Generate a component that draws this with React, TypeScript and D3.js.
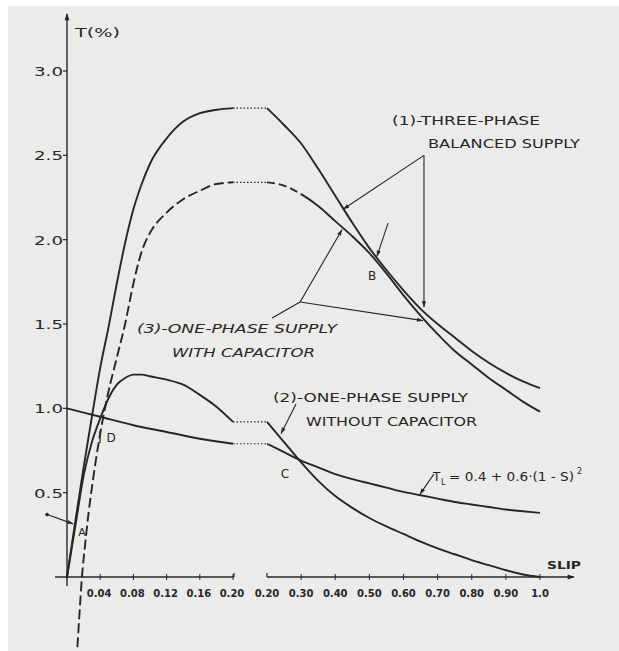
import React from "react";
import * as d3 from "d3";

const W = 619;
const H = 651;

// slip values, left (expanded) part of the broken axis
const slipLeft = [0, 0.01, 0.02, 0.03, 0.04, 0.05, 0.06, 0.07, 0.08, 0.09, 0.1, 0.12, 0.14, 0.16, 0.18, 0.2];
// (1) three-phase balanced supply
const threePhaseLeft = [0, 0.33, 0.65, 0.95, 1.24, 1.48, 1.74, 1.98, 2.18, 2.33, 2.45, 2.6, 2.7, 2.75, 2.77, 2.78];
// (2) one-phase supply without capacitor
const noCapLeft = [0, 0.3, 0.6, 0.8, 0.94, 1.06, 1.14, 1.18, 1.2, 1.2, 1.19, 1.17, 1.14, 1.08, 1.01, 0.92];
// (3) one-phase supply with capacitor (dashed) has its own slip points
const capSlipLeft = [0.0115, 0.015, 0.018, 0.022, 0.026, 0.03, 0.04, 0.05, 0.06, 0.07, 0.08, 0.09, 0.1, 0.12, 0.14, 0.16, 0.18, 0.2];
const capLeft = [-0.5, -0.22, 0.0, 0.2, 0.38, 0.53, 0.85, 1.1, 1.3, 1.5, 1.74, 1.93, 2.04, 2.16, 2.24, 2.29, 2.33, 2.34];
// load torque
const loadSlipLeft = [0, 0.04, 0.08, 0.12, 0.16, 0.2];
const loadLeft = [1.0, 0.95, 0.9, 0.86, 0.82, 0.79];

// right (compressed) part of the broken axis
const slipRight = [0.2, 0.25, 0.3, 0.35, 0.4, 0.45, 0.5, 0.55, 0.6, 0.65, 0.7, 0.75, 0.8, 0.85, 0.9, 0.95, 1.0];
const threePhaseRight = [2.78, 2.68, 2.57, 2.42, 2.26, 2.1, 1.95, 1.82, 1.7, 1.59, 1.5, 1.42, 1.34, 1.27, 1.21, 1.16, 1.12];
const capRight = [2.34, 2.32, 2.27, 2.2, 2.11, 2.02, 1.92, 1.8, 1.67, 1.55, 1.44, 1.34, 1.26, 1.18, 1.11, 1.04, 0.98];
const noCapRight = [0.92, 0.8, 0.68, 0.57, 0.48, 0.41, 0.35, 0.3, 0.255, 0.21, 0.17, 0.135, 0.1, 0.07, 0.04, 0.015, 0];
const loadRight = [0.79, 0.74, 0.69, 0.65, 0.61, 0.58, 0.555, 0.53, 0.505, 0.485, 0.465, 0.445, 0.43, 0.415, 0.4, 0.39, 0.38];

const yTicks = [0.5, 1.0, 1.5, 2.0, 2.5, 3.0];
const yTickLabels = ["0.5", "1.0", "1.5", "2.0", "2.5", "3.0"];
const xTicksLeft = [0.04, 0.08, 0.12, 0.16, 0.2];
const xTickLabelsLeft = ["0.04", "0.08", "0.12", "0.16", "0.20"];
const xTicksRight = [0.2, 0.3, 0.4, 0.5, 0.6, 0.7, 0.8, 0.9, 1.0];
const xTickLabelsRight = ["0.20", "0.30", "0.40", "0.50", "0.60", "0.70", "0.80", "0.90", "1.0"];

const INK = "#262626";
const FONT = "'DejaVu Sans', sans-serif";

export default function App() {
  const xL = d3.scaleLinear().domain([0, 0.2]).range([67, 233]);
  const xR = d3.scaleLinear().domain([0.2, 1.0]).range([267, 540]);
  const y = d3.scaleLinear().domain([0, 3]).range([577, 71]);

  const zip = (a: number[], b: number[]) => a.map((v, i) => [v, b[i]] as [number, number]);
  const lineL = d3.line<[number, number]>().x((d) => xL(d[0])).y((d) => y(d[1])).curve(d3.curveMonotoneX);
  const lineR = d3.line<[number, number]>().x((d) => xR(d[0])).y((d) => y(d[1])).curve(d3.curveMonotoneX);

  const curves = [
    { l: zip(slipLeft, threePhaseLeft), r: zip(slipRight, threePhaseRight), dashL: undefined, dashR: undefined },
    { l: zip(slipLeft, noCapLeft), r: zip(slipRight, noCapRight), dashL: undefined, dashR: undefined },
    { l: zip(capSlipLeft, capLeft), r: zip(slipRight, capRight), dashL: "10 4", dashR: "8 4 8 4 8 4 2000" },
    { l: zip(loadSlipLeft, loadLeft), r: zip(slipRight, loadRight), dashL: undefined, dashR: undefined },
  ];

  // annotation helpers (data space -> pixels)
  const pR = (s: number, t: number) => [xR(s), y(t)];
  const pL = (s: number, t: number) => [xL(s), y(t)];

  const leader = (pts: number[][], arrow = true, key = "") => (
    <polyline
      key={key}
      points={pts.map((p) => p.join(",")).join(" ")}
      fill="none"
      stroke={INK}
      strokeWidth={1.1}
      markerEnd={arrow ? "url(#arr)" : undefined}
    />
  );

  const c1 = pR(0.66, 2.5);
  const c3 = pR(0.297, 1.63);

  return (
    <svg width={W} height={H} style={{ position: "absolute", left: 0, top: 0 }} fontFamily={FONT}>
      <defs>
        <marker id="arr" viewBox="0 0 10 10" refX="10" refY="5" markerWidth="8" markerHeight="6" markerUnits="userSpaceOnUse" orient="auto">
          <path d="M0,1.5 L10,5 L0,8.5 z" fill={INK} />
        </marker>
        <marker id="axarr" viewBox="0 0 10 10" refX="9" refY="5" markerWidth="12" markerHeight="7" markerUnits="userSpaceOnUse" orient="auto">
          <path d="M0,1.5 L10,5 L0,8.5 z" fill={INK} />
        </marker>
      </defs>
      <rect x={0} y={0} width={W} height={H} fill="#ffffff" />
      <rect x={8} y={6} width={W - 8} height={H - 6} fill="#ebebe9" />

      {/* axes */}
      <line x1={67} y1={586} x2={67} y2={14} stroke={INK} strokeWidth={1.4} markerEnd="url(#axarr)" />
      <line x1={55} y1={577} x2={xL(0.2) + 1} y2={577} stroke={INK} strokeWidth={1.4} />
      <line x1={xL(0.2) + 1} y1={577} x2={xL(0.2) + 1} y2={573} stroke={INK} strokeWidth={1.2} />
      <line x1={xR(0.2)} y1={573} x2={xR(0.2)} y2={577} stroke={INK} strokeWidth={1.2} />
      <line x1={xR(0.2)} y1={577} x2={574} y2={577} stroke={INK} strokeWidth={1.4} markerEnd="url(#axarr)" />

      {yTicks.map((t, i) => (
        <g key={"yt" + i}>
          <line x1={63} x2={67} y1={y(t)} y2={y(t)} stroke={INK} strokeWidth={1.2} />
          <text x={34} y={y(t) + 5} fontSize={13} fill={INK} textLength={29} lengthAdjust="spacingAndGlyphs">
            {yTickLabels[i]}
          </text>
        </g>
      ))}
      {xTicksLeft.map((s, i) => (
        <g key={"xl" + i}>
          <line x1={xL(s)} x2={xL(s)} y1={574} y2={580} stroke={INK} strokeWidth={1} />
          <text x={xL(s) - 1} y={597} fontSize={10} fontWeight="bold" fill={INK} textAnchor="middle">
            {xTickLabelsLeft[i]}
          </text>
        </g>
      ))}
      {xTicksRight.map((s, i) => (
        <g key={"xr" + i}>
          {i > 0 && <line x1={xR(s)} x2={xR(s)} y1={574} y2={580} stroke={INK} strokeWidth={1} />}
          <text x={xR(s)} y={597} fontSize={10} fontWeight="bold" fill={INK} textAnchor="middle">
            {xTickLabelsRight[i]}
          </text>
        </g>
      ))}
      <text x={547} y={569} fontSize={11} fontWeight="bold" fill={INK} textLength={34} lengthAdjust="spacingAndGlyphs">SLIP</text>
      <text x={75} y={37} fontSize={13} fill={INK} textLength={45} lengthAdjust="spacingAndGlyphs">T(%)</text>

      {/* curves */}
      {curves.map((c, i) => {
        const a = c.l[c.l.length - 1];
        const b = c.r[0];
        return (
          <g key={"c" + i}>
            <path d={lineL(c.l) || ""} fill="none" stroke={INK} strokeWidth={1.9} strokeDasharray={c.dashL} />
            <line x1={xL(a[0])} y1={y(a[1])} x2={xR(b[0])} y2={y(b[1])} stroke={INK} strokeWidth={1.2} strokeDasharray="1.5 2" />
            <path d={lineR(c.r) || ""} fill="none" stroke={INK} strokeWidth={1.9} strokeDasharray={c.dashR} />
          </g>
        );
      })}

      {/* annotation leaders */}
      {leader([c1, pR(0.423, 2.18)], true, "a1")}
      {leader([c1, pR(0.66, 1.6)], true, "a2")}
      {leader([pR(0.215, 1.535), c3], false, "a3")}
      {leader([c3, pR(0.42, 2.06)], true, "a4")}
      {leader([c3, pR(0.657, 1.52)], true, "a5")}
      {leader([pR(0.555, 2.1), pR(0.522, 1.9)], true, "a6")}
      {leader([pR(0.285, 1.025), pR(0.241, 0.85)], true, "a7")}
      {leader([pR(0.689, 0.61), pR(0.648, 0.49)], true, "a8")}
      {leader([pL(-0.024, 0.37), pL(0.0075, 0.315)], true, "a9")}
      <circle cx={pL(-0.024, 0.37)[0]} cy={pL(-0.024, 0.37)[1]} r={1.8} fill={INK} />
      <line x1={100} y1={431} x2={100} y2={443} stroke={INK} strokeWidth={1.2} />

      {/* point labels */}
      <text x={372} y={280} fontSize={12} fill={INK} textAnchor="middle">B</text>
      <text x={285} y={478} fontSize={12} fill={INK} textAnchor="middle">C</text>
      <text x={111} y={442} fontSize={12} fill={INK} textAnchor="middle">D</text>
      <text x={82} y={536} fontSize={11} fill={INK} textAnchor="middle">A</text>

      {/* curve labels */}
      <g fontSize={12} fill={INK}>
        <text x={392} y={125} textLength={148} lengthAdjust="spacingAndGlyphs">(1)-THREE-PHASE</text>
        <text x={428} y={148} textLength={152} lengthAdjust="spacingAndGlyphs">BALANCED SUPPLY</text>
        <text x={137} y={333} textLength={200} lengthAdjust="spacingAndGlyphs" fontStyle="italic">(3)-ONE-PHASE SUPPLY</text>
        <text x={172} y={357} textLength={143} lengthAdjust="spacingAndGlyphs" fontStyle="italic">WITH CAPACITOR</text>
        <text x={273} y={402} textLength={195} lengthAdjust="spacingAndGlyphs">(2)-ONE-PHASE SUPPLY</text>
        <text x={306} y={426} textLength={171} lengthAdjust="spacingAndGlyphs">WITHOUT CAPACITOR</text>
        <text x={433} y={481} fontSize={12}>T</text>
        <text x={441} y={485} fontSize={8}>L</text>
        <text x={449} y={481} textLength={125} lengthAdjust="spacingAndGlyphs">= 0.4 + 0.6·(1 - S)</text>
        <text x={577} y={474} fontSize={8}>2</text>
      </g>
    </svg>
  );
}
